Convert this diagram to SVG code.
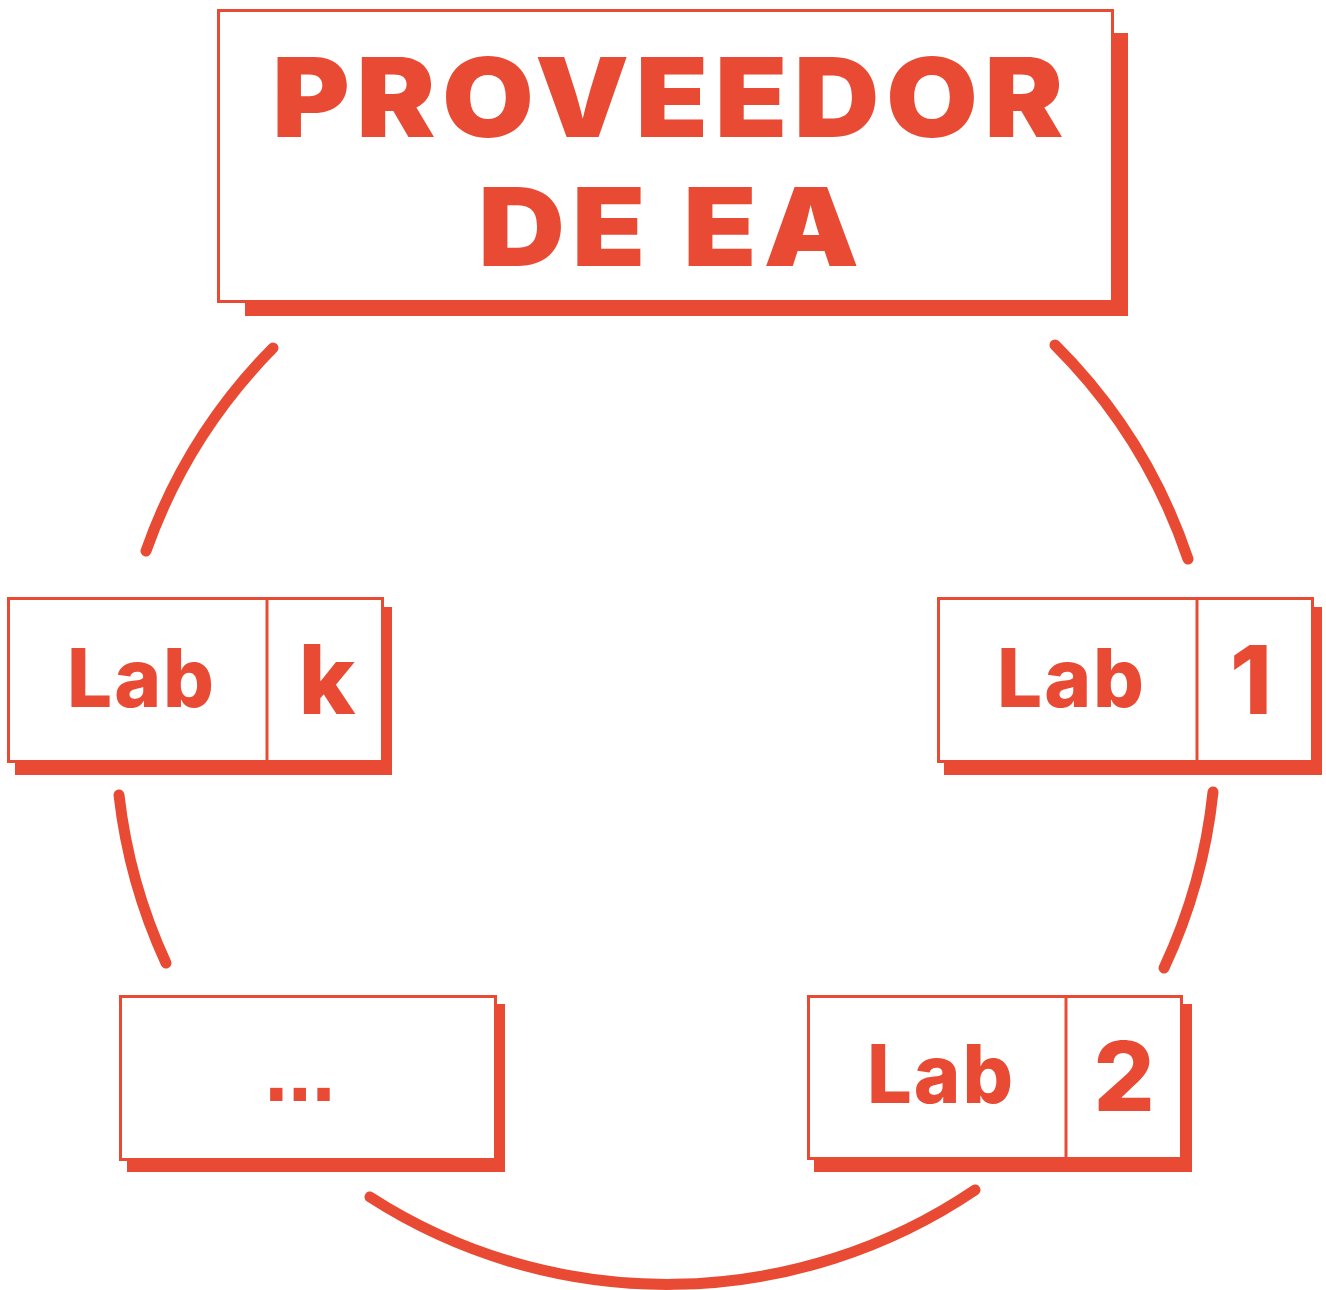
<svg xmlns="http://www.w3.org/2000/svg" width="1326" height="1290" viewBox="0 0 1326 1290">
<style>
.sh{fill:#E94A33}
.bx{fill:#fff;stroke:#E94A33;stroke-width:3}
.dv{stroke:#E94A33;stroke-width:3}
.t{fill:#E94A33;font-family:Inter,Lato,"Liberation Sans",sans-serif;font-weight:800}
.h{font-weight:900}
.arc{fill:none;stroke:#E94A33;stroke-width:11;stroke-linecap:round}
</style>
<rect width="1326" height="1290" fill="#fff"/>
<g id="connectors">
<path class="arc" d="M273 348 A549 549 0 0 0 146 551"/>
<path class="arc" d="M1055 345 A549 549 0 0 1 1188 559"/>
<path class="arc" d="M119 795 A549 549 0 0 0 166 963"/>
<path class="arc" d="M1213 792 A549 549 0 0 1 1164 968"/>
<path class="arc" d="M370 1197 A549 549 0 0 0 975 1190"/>
</g>
<g id="proveedor">
<rect class="sh" x="245" y="33" width="883" height="283"/>
<rect class="bx" x="218.5" y="10.5" width="894" height="291"/>
<text class="t h" x="272" y="137" font-size="110" letter-spacing="6" textLength="798" lengthAdjust="spacingAndGlyphs">PROVEEDOR</text>
<text class="t h" x="478" y="266" font-size="108" letter-spacing="6" textLength="388" lengthAdjust="spacingAndGlyphs">DE EA</text>
</g>
<g id="lab-k">
<rect class="sh" x="15" y="607" width="377" height="168"/>
<rect class="bx" x="8.5" y="598.5" width="374" height="163"/>
<line class="dv" x1="267" y1="598" x2="267" y2="762"/>
<text class="t" x="67" y="707" font-size="81" letter-spacing="2" textLength="149" lengthAdjust="spacingAndGlyphs">Lab</text>
<text class="t" x="327" y="714" font-size="96" text-anchor="middle">k</text>
</g>
<g id="lab-1">
<rect class="sh" x="944" y="607" width="378" height="168"/>
<rect class="bx" x="938.5" y="598.5" width="374" height="163"/>
<line class="dv" x1="1197" y1="598" x2="1197" y2="762"/>
<text class="t" x="997" y="707" font-size="81" letter-spacing="2" textLength="149" lengthAdjust="spacingAndGlyphs">Lab</text>
<text class="t" x="1251" y="714" font-size="95" text-anchor="middle">1</text>
</g>
<g id="lab-dots">
<rect class="sh" x="127" y="1004" width="378" height="168"/>
<rect class="bx" x="120.5" y="996.5" width="375" height="163"/>
<text class="t" x="263" y="1101" font-size="70" style="font-family:'DejaVu Sans',sans-serif;font-weight:700" letter-spacing="-3">...</text>
</g>
<g id="lab-2">
<rect class="sh" x="814" y="1004" width="378" height="168"/>
<rect class="bx" x="808.5" y="996.5" width="373" height="162"/>
<line class="dv" x1="1066" y1="996" x2="1066" y2="1159"/>
<text class="t" x="867" y="1103" font-size="81" letter-spacing="2" textLength="148" lengthAdjust="spacingAndGlyphs">Lab</text>
<text class="t" x="1124" y="1111" font-size="96" text-anchor="middle">2</text>
</g>
</svg>
